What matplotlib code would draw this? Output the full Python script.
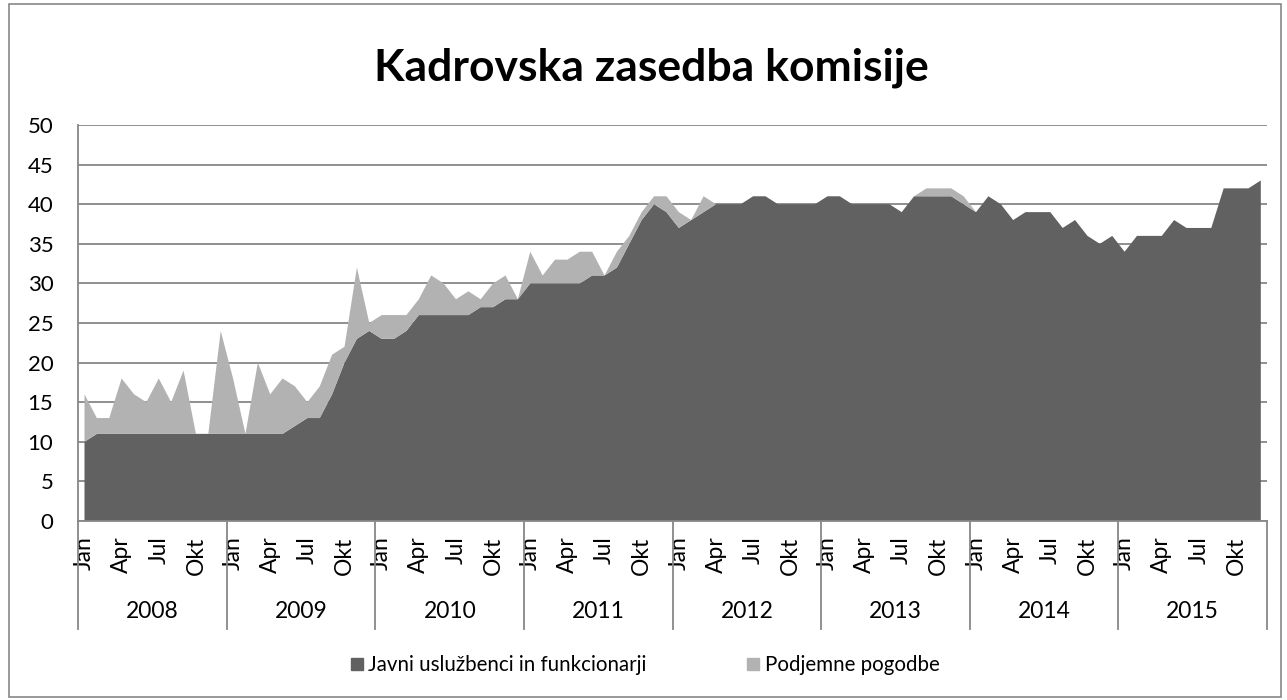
import matplotlib
matplotlib.use("Agg")
import matplotlib.pyplot as plt
from matplotlib.lines import Line2D
from matplotlib.patches import Rectangle
import matplotlib.transforms as mtransforms
import numpy as np

plt.rcParams['font.family'] = ['Lato', 'DejaVu Sans']

years = ['2008', '2009', '2010', '2011', '2012', '2013', '2014', '2015']
months = ['Jan', 'Feb', 'Mar', 'Apr', 'Maj', 'Jun', 'Jul', 'Avg', 'Sep', 'Okt', 'Nov', 'Dec']
shown_months = ['Jan', 'Apr', 'Jul', 'Okt']

javni = [
    10, 11, 11, 11, 11, 11, 11, 11, 11, 11, 11, 11,   # 2008
    11, 11, 11, 11, 11, 12, 13, 13, 16, 20, 23, 24,   # 2009
    23, 23, 24, 26, 26, 26, 26, 26, 27, 27, 28, 28,   # 2010
    30, 30, 30, 30, 30, 31, 31, 32, 35, 38, 40, 39,   # 2011
    37, 38, 39, 40, 40, 40, 41, 41, 40, 40, 40, 40,   # 2012
    41, 41, 40, 40, 40, 40, 39, 41, 41, 41, 41, 40,   # 2013
    39, 41, 40, 38, 39, 39, 39, 37, 38, 36, 35, 36,   # 2014
    34, 36, 36, 36, 38, 37, 37, 37, 42, 42, 42, 43,   # 2015
]
podjemne = [
    6, 2, 2, 7, 5, 4, 7, 4, 8, 0, 0, 13,   # 2008
    7, 0, 9, 5, 7, 5, 2, 4, 5, 2, 9, 1,    # 2009
    3, 3, 2, 2, 5, 4, 2, 3, 1, 3, 3, 0,    # 2010
    4, 1, 3, 3, 4, 3, 0, 2, 1, 1, 1, 2,    # 2011
    2, 0, 2, 0, 0, 0, 0, 0, 0, 0, 0, 0,    # 2012
    0, 0, 0, 0, 0, 0, 0, 0, 1, 1, 1, 1,    # 2013
    0, 0, 0, 0, 0, 0, 0, 0, 0, 0, 0, 0,    # 2014
    0, 0, 0, 0, 0, 0, 0, 0, 0, 0, 0, 0,    # 2015
]
series_names = ['Javni uslužbenci in funkcionarji', 'Podjemne pogodbe']
title = 'Kadrovska zasedba komisije'

DARK = '#616161'
LIGHT = '#b2b2b2'
GRID = '#878787'
W, H = 1287, 700

fig = plt.figure(figsize=(W / 100, H / 100), dpi=100)
fig.patch.set_facecolor('white')

# outer chart border
fig.patches.append(Rectangle((9 / W, 3 / H), (1281 - 9) / W, (696 - 3) / H,
                             transform=fig.transFigure, fill=False,
                             edgecolor=GRID, linewidth=1.2, zorder=0))

x0, x1, ytop, ybot = 78.3, 1267, 125, 521
ax = fig.add_axes([x0 / W, (H - ybot) / H, (x1 - x0) / W, (ybot - ytop) / H])

n = len(javni)
x = np.arange(n) + 0.5
ax.stackplot(x, javni, podjemne, colors=[DARK, LIGHT], linewidth=0, zorder=2)

ax.set_xlim(0, n)
ax.set_ylim(0, 50)
ax.set_yticks(range(0, 51, 5))
ax.yaxis.grid(True, color=GRID, linewidth=1.3)
ax.set_axisbelow(True)
for s in ['top', 'right']:
    ax.spines[s].set_visible(False)
for s in ['left', 'bottom']:
    ax.spines[s].set_color(GRID)
    ax.spines[s].set_linewidth(1.3)
ax.tick_params(axis='y', length=0, pad=18, labelsize=16, labelcolor='black')

# month labels
tick_pos, tick_lab = [], []
for yi in range(len(years)):
    for mi, m in enumerate(months):
        if m in shown_months:
            tick_pos.append(yi * 12 + mi + 0.5)
            tick_lab.append(m)
ax.set_xticks(tick_pos)
ax.set_xticklabels(tick_lab, rotation=90, va='top', ha='center')
ax.tick_params(axis='x', length=0, pad=11, labelsize=16.5, labelcolor='black')

# year group labels and separators
trans = mtransforms.blended_transform_factory(ax.transData, ax.transAxes)
ph = ybot - ytop
sep_bottom = -(629 - ybot) / ph
for yi, yr in enumerate(years):
    ax.text(yi * 12 + 6, -(612 - ybot) / ph, yr, transform=trans,
            ha='center', va='center', fontsize=16.5)
for b in range(len(years) + 1):
    ax.add_line(Line2D([b * 12, b * 12], [0, sep_bottom], transform=trans,
                       color=GRID, linewidth=1.3, clip_on=False))

fig.text(651 / W, 1 - 68 / H, title, ha='center', va='center',
         fontsize=32, fontweight='bold')

handles = [Line2D([], [], marker='s', linestyle='none', markersize=9,
                  markerfacecolor=c, markeredgecolor=c) for c in (DARK, LIGHT)]
fig.legend(handles, series_names, loc='center', bbox_to_anchor=(645 / W, 1 - 665 / H),
           ncol=2, frameon=False, fontsize=14.8, handlelength=0.6, handletextpad=0.25,
           columnspacing=4.9)

fig.savefig('out.png', dpi=100, facecolor='white')
